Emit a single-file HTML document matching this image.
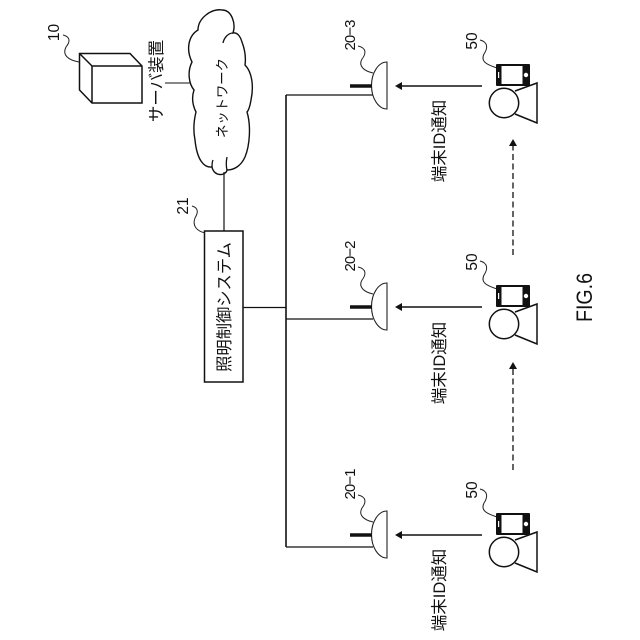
<!DOCTYPE html>
<html><head><meta charset="utf-8"><style>
html,body{margin:0;padding:0;background:#fff;width:640px;height:640px;overflow:hidden}
svg{display:block}
text{fill:#111;font-family:"Liberation Sans","Noto Sans CJK JP",sans-serif}
</style></head><body>
<svg width="640" height="640" viewBox="0 0 640 640" xmlns="http://www.w3.org/2000/svg">
<defs>
<g id="unit">
  <path d="M387 62A15.5 23.5 0 0 0 387 109Z" fill="#fff" stroke="#222" stroke-width="1.1"/>
  <path d="M350 86H372" stroke="#111" stroke-width="3.6"/>
  <path d="M482 86H400" stroke="#111" stroke-width="1.5"/>
  <path d="M395 86L402 82V90Z" fill="#111"/>
  <path d="M358 46C367 48 366 54 362 59C358 66 364 71 373 73" fill="none" stroke="#222" stroke-width="1"/>
  <path d="M480 40C488 42 488 48 484 54C480 62 488 65 497 68" fill="none" stroke="#222" stroke-width="1"/>
  <rect x="496" y="64" width="34" height="22" rx="1" fill="#111"/>
  <rect x="501.5" y="66" width="21" height="18" fill="#fff"/>
  <rect x="498" y="72" width="1.2" height="6" fill="#fff"/>
  <circle cx="526" cy="75" r="2.2" fill="#fff"/>
  <path d="M515 91L537 83V123L515 114" fill="#fff" stroke="#111" stroke-width="1.5"/>
  <circle cx="504" cy="103" r="14.7" fill="#fff" stroke="#111" stroke-width="1.5"/>
  <text transform="translate(477,41) rotate(-90)" font-size="15.5" text-anchor="middle">50</text>
</g>
</defs>

<!-- server -->
<path d="M79.5 53.5H130L142 66V103H92L79.5 90Z M79.5 53.5L92 66V103 M92 66H142" fill="none" stroke="#111" stroke-width="1.5"/>
<path d="M63 35C71 37 70 42 66 47C62 55 68 60 79 62" fill="none" stroke="#222" stroke-width="1"/>
<text transform="translate(59,32.5) rotate(-90)" font-size="15.5" text-anchor="middle">10</text>
<path d="M165 83H190" stroke="#111" stroke-width="1.1"/>
<text transform="translate(162,81) rotate(-90)" font-size="16.5" text-anchor="middle">サーバ装置</text>

<!-- cloud -->
<path d="M192 62C186 50 188 36 198 30C198 18 212 8 222 10C232 10 236 24 233 33C238 32 241 38 242 42C245 50 246 58 245 65C252 72 254 86 251 100C250 106 249 110 247 112C251 125 250 145 245 157C241 166 234 170 227 170C226 176 214 177 212 167C204 168 197 160 195 140C193 130 194 120 196 112C192 104 192 96 194 90C189 84 187 72 192 62Z" fill="#fff" stroke="#111" stroke-width="1.4"/>
<path d="M223 43C224 38 228 33 233 33M227 170C226 166 226 162 227 157M212 167C212 164 212 162 213 160" fill="none" stroke="#111" stroke-width="1.3"/>
<text transform="translate(227,98) rotate(-90)" font-size="13.5" text-anchor="middle" textLength="80">ネットワーク</text>

<!-- lines -->
<path d="M224 172V231" stroke="#222" stroke-width="1.3"/>
<rect x="204.5" y="231" width="38.5" height="151" fill="#fff" stroke="#111" stroke-width="1.5"/>
<text transform="translate(230,307) rotate(-90)" font-size="16.3" text-anchor="middle">照明制御システム</text>
<path d="M192 206C199 208 198 213 195 218C192 226 197 231 205 233" fill="none" stroke="#222" stroke-width="1"/>
<text transform="translate(188,206) rotate(-90)" font-size="15.5" text-anchor="middle">21</text>
<path d="M243 307.5H286" stroke="#111" stroke-width="1.3"/>
<path d="M286 95V547" stroke="#111" stroke-width="1.6"/>
<path d="M286 95H373M286 319H373M286 547H373" stroke="#111" stroke-width="1.3"/>

<use href="#unit"/>
<use href="#unit" y="221"/>
<use href="#unit" y="449"/>

<text transform="translate(355,35) rotate(-90)" font-size="15" text-anchor="middle" textLength="31">20−3</text>
<text transform="translate(355,256) rotate(-90)" font-size="15" text-anchor="middle" textLength="31">20−2</text>
<text transform="translate(355,484) rotate(-90)" font-size="15" text-anchor="middle" textLength="31">20−1</text>

<text transform="translate(445,141) rotate(-90)" font-size="16.5" text-anchor="middle">端末ID通知</text>
<text transform="translate(445,363) rotate(-90)" font-size="16.5" text-anchor="middle">端末ID通知</text>
<text transform="translate(445,590) rotate(-90)" font-size="16.5" text-anchor="middle">端末ID通知</text>

<!-- dashed arrows -->
<path d="M513 255V146" stroke="#111" stroke-width="1.3" stroke-dasharray="6 3.5"/>
<path d="M513 139L509 146H517Z" fill="#111"/>
<path d="M513 470V369" stroke="#111" stroke-width="1.3" stroke-dasharray="6 3.5"/>
<path d="M513 362L509 369H517Z" fill="#111"/>

<text transform="translate(592,297.5) rotate(-90)" font-size="22" text-anchor="middle" textLength="49" lengthAdjust="spacingAndGlyphs">FIG.6</text>
</svg>
</body></html>
